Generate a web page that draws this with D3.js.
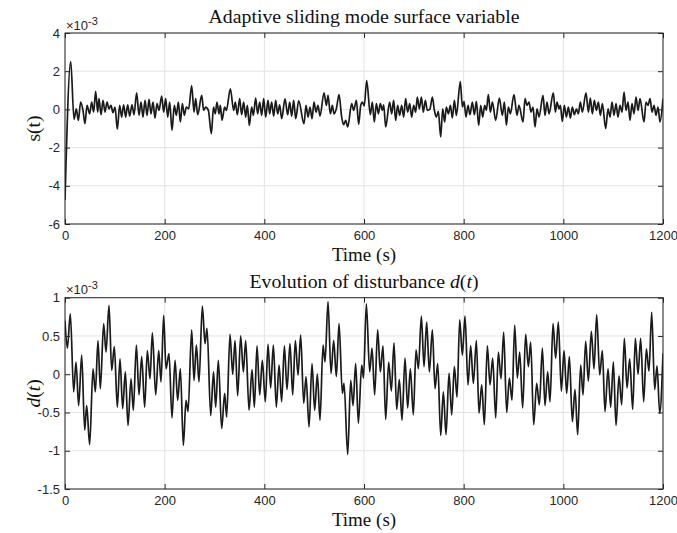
<!DOCTYPE html>
<html>
<head>
<meta charset="utf-8">
<script src="https://cdn.jsdelivr.net/npm/d3@7"></script>
<style>
  body { margin: 0; background: #fff; }
  svg text { fill: #262626; }
  .tick text { font-family: "Liberation Sans", Arial, sans-serif; font-size: 13px; fill: #262626; }
  .serif { font-family: "Liberation Serif", "Times New Roman", serif; fill: #111; }
  .expo { font-family: "Liberation Sans", Arial, sans-serif; fill: #262626; }
</style>
</head>
<body>
<svg id="fig" width="677" height="533"></svg>
<script>
// time axis (s) and tick values
var timeTicks = [0, 200, 400, 600, 800, 1000, 1200];
var sTicks = [-6, -4, -2, 0, 2, 4];
var dTicks = [-1.5, -1, -0.5, 0, 0.5, 1];

// s(t), in units of 1e-3 (local extremes)
var sTime = [0, 11.5, 18.1, 22.7, 26.8, 31.4, 36.1, 40.1, 44.2, 49.5, 53.5, 57.5, 61.5, 65.6, 68.2, 72.3, 76.3, 80.3, 84.3, 88.3,
  92.3, 96.3, 100.4, 105.0, 109.7, 113.7, 117.7, 121.8, 125.8, 129.8, 134.5, 138.5, 143.8, 148.5, 152.5, 156.5, 160.6, 164.6, 168.6, 172.6,
  176.6, 180.6, 184.6, 188.7, 194.0, 198.0, 202.0, 206.1, 210.1, 214.7, 219.4, 223.4, 227.5, 231.5, 235.5, 239.5, 243.5, 248.2, 254.2, 258.9,
  262.2, 266.3, 274.3, 278.3, 282.3, 287.7, 293.7, 298.0, 301.5, 305.0, 309.0, 311.7, 315.1, 320.4, 323.8, 331.8, 338.5, 341.8, 345.8, 350.5,
  354.5, 358.5, 362.6, 365.9, 369.9, 374.6, 378.0, 382.6, 386.6, 390.7, 394.7, 398.7, 402.7, 407.4, 410.7, 414.7, 418.8, 422.8, 426.8, 430.8,
  434.8, 441.5, 446.9, 450.9, 454.9, 458.9, 462.9, 469.0, 479.6, 483.7, 487.7, 491.7, 495.7, 499.7, 503.7, 507.7, 511.7, 519.8, 524.5, 527.8,
  532.5, 536.5, 539.8, 544.5, 549.9, 555.2, 559.2, 563.3, 567.3, 575.3, 579.3, 584.7, 589.3, 593.4, 597.0, 600.5, 605.4, 612.7, 616.7, 620.7,
  624.8, 628.8, 632.8, 636.8, 639.5, 643.5, 651.5, 655.5, 659.5, 663.6, 667.6, 671.6, 675.6, 679.6, 683.6, 687.6, 691.7, 695.7, 699.7, 703.7,
  707.0, 711.1, 715.1, 719.1, 723.1, 727.1, 732.0, 737.2, 741.2, 745.2, 749.2, 753.9, 757.9, 761.9, 765.2, 769.3, 773.3, 777.3, 781.3, 785.3,
  793.3, 797.4, 800.7, 804.7, 808.7, 812.7, 817.4, 821.4, 825.5, 830.1, 834.2, 838.2, 842.2, 845.5, 849.5, 853.6, 857.6, 864.3, 871.6, 877.6,
  881.7, 885.7, 889.7, 893.7, 901.0, 907.0, 911.0, 919.1, 923.1, 927.1, 931.1, 935.1, 939.1, 943.2, 947.2, 951.2, 959.2, 963.2, 967.2, 971.3,
  979.9, 984.0, 987.3, 991.3, 994.0, 998.0, 1002.0, 1006.0, 1010.1, 1014.1, 1018.1, 1022.1, 1026.1, 1030.1, 1034.1, 1038.2, 1045.5, 1050.2, 1054.2, 1058.2,
  1062.2, 1066.3, 1070.3, 1074.3, 1078.3, 1085.0, 1089.7, 1093.7, 1097.7, 1101.7, 1105.7, 1109.7, 1113.7, 1117.8, 1121.8, 1125.8, 1129.8, 1133.8, 1137.8, 1141.8,
  1145.9, 1149.9, 1153.9, 1161.9, 1165.9, 1169.9, 1174.0, 1178.0, 1182.0, 1186.0, 1190.0, 1194.0, 1200];
var sValue = [-4.74, 2.5, -0.52, 0.03, -0.57, 0.38, -0.05, -0.75, 0.21, -0.23, 0.38, -0.14, 0.95, -0.14, 0.56, -0.28, 0.47, -0.14, 0.38, 0.03,
  0.21, -0.17, 0.12, -1.04, 0.21, -0.40, 0.24, -0.40, 0.24, -0.35, 0.24, -0.28, 0.87, -0.31, 0.38, -0.40, 0.47, -0.31, 0.52, -0.23,
  0.38, -0.45, 0.30, -0.05, 0.70, -0.14, 0.56, -0.40, 0.38, -1.10, 0.21, -0.31, 0.38, -0.66, 0.30, -0.31, 0.12, 0.03, 1.25, -0.14,
  0.56, -0.28, 0.73, -0.05, 0.12, -0.05, -1.27, 0.12, -0.23, 0.38, -0.23, 0.21, -0.57, 0.12, -0.05, 1.08, -0.05, 0.38, -0.28, 0.56,
  -0.28, 0.38, -0.40, 0.21, -0.83, 0.12, -0.31, 0.59, -0.23, 0.38, -0.31, 0.56, -0.40, 0.47, -0.23, 0.38, -0.35, 0.47, -0.23, 0.24,
  -0.49, 0.55, -0.28, 0.38, -0.35, 0.47, -0.49, 0.45, -0.75, 0.21, -0.40, 0.12, -0.49, 0.38, -0.14, 0.21, -0.35, 0.87, 0.21, 0.73,
  -0.23, 0.21, -0.23, 0.03, 0.77, -0.40, -0.80, -0.57, -0.92, 0.30, -0.05, 0.47, -0.78, 0.21, 0.38, 0.18, 1.51, -0.28, 0.38, -0.66,
  0.30, -0.23, 0.30, -0.05, 0.24, -0.92, 0.38, -0.23, 0.47, -0.57, 0.21, -0.31, 0.21, -0.40, 0.56, -0.14, 0.30, -0.40, 0.21, -0.14,
  0.64, 0.03, 0.64, -0.14, 0.47, -0.05, 0.0, 0.64, -0.05, -0.40, -0.10, -1.44, 0.03, -0.66, 0.12, -0.23, 0.21, -0.45, 0.47, -0.31,
  1.46, 0.12, 0.42, -0.40, 0.21, -0.28, 0.38, -0.28, 0.42, -0.83, 0.21, -0.40, 0.21, -0.05, 0.77, -0.14, 0.38, -0.57, 0.59, -0.31,
  0.38, -0.83, 0.12, -0.23, 0.78, -0.31, 0.21, -0.66, 0.56, 0.21, 0.38, -0.14, 0.12, -0.92, 0.03, -0.40, 0.73, -0.31, 0.38, -0.23,
  0.87, -0.14, 0.38, 0.03, 0.21, -0.63, 0.21, -0.40, 0.12, -0.45, 0.12, -0.28, 0.03, -0.23, 0.38, -0.14, 0.87, -0.14, 0.59, -0.23,
  0.47, -0.05, 0.38, -0.31, 0.30, -1.00, 0.03, -0.40, 0.38, -0.31, 0.30, -0.40, 0.21, -0.14, 0.90, -0.05, 0.38, -0.57, 0.30, -0.23,
  0.64, -0.05, 0.56, -0.66, 0.38, 0.21, 0.56, -0.14, 0.21, -0.31, 0.12, -0.66, 0.55];

// d(t), in units of 1e-3
var dTime = [0, 4.7, 10.7, 17.4, 22.1, 27.4, 33.5, 39.5, 43.5, 49.5, 56.2, 60.9, 66.2, 70.9, 77.6, 82.3, 88.3, 93.7, 99.0, 105.0,
  110.4, 115.7, 121.1, 126.4, 132.5, 137.1, 143.2, 148.5, 153.9, 159.9, 165.2, 170.6, 175.3, 182.0, 188.0, 192.7, 198.0, 202.7, 208.7, 214.7,
  220.8, 226.1, 231.5, 237.5, 242.8, 246.9, 254.2, 258.9, 263.6, 268.9, 275.6, 281.0, 285.0, 292.4, 298.0, 302.4, 307.7, 314.4, 320.4, 324.4,
  331.1, 336.5, 341.2, 346.5, 352.5, 357.9, 362.6, 369.3, 375.3, 380.0, 385.3, 390.7, 396.0, 402.0, 407.4, 412.7, 418.1, 424.1, 429.5, 434.8,
  440.2, 445.5, 451.5, 456.9, 462.2, 467.6, 472.9, 479.0, 483.7, 489.7, 495.7, 501.0, 506.4, 511.7, 517.8, 521.8, 527.8, 533.8, 539.2, 544.5,
  549.9, 556.6, 559.9, 567.3, 573.3, 578.0, 583.3, 588.7, 595.4, 599.0, 604.7, 611.4, 616.1, 621.4, 627.4, 632.8, 638.1, 643.5, 649.5, 654.9,
  660.2, 665.6, 670.9, 676.3, 682.3, 687.6, 693.0, 699.0, 704.4, 709.1, 715.1, 720.4, 725.8, 731.1, 737.2, 742.5, 747.9, 753.9, 759.2, 764.6,
  770.6, 776.0, 781.3, 786.7, 792.0, 797.4, 802.7, 808.7, 814.1, 819.4, 825.5, 830.8, 836.2, 841.5, 847.5, 852.9, 858.2, 864.3, 869.6, 875.0,
  880.3, 886.3, 891.7, 897.0, 902.4, 907.7, 912.4, 918.4, 924.4, 929.8, 934.5, 940.5, 946.5, 951.9, 957.9, 963.2, 968.6, 973.3, 979.3, 984.6,
  990.0, 996.0, 1001.4, 1006.7, 1012.1, 1018.1, 1023.4, 1028.8, 1034.8, 1039.5, 1044.8, 1050.2, 1056.2, 1061.6, 1066.9, 1073.0, 1078.3, 1083.6, 1089.7, 1095.0,
  1100.4, 1105.7, 1111.7, 1117.1, 1122.4, 1127.8, 1133.2, 1139.2, 1144.5, 1149.9, 1155.2, 1161.2, 1166.6, 1171.9, 1177.3, 1183.3, 1188.0, 1193.4, 1200];
var dValue = [0.70, 0.34, 0.79, -0.23, 0.16, -0.41, 0.25, -0.73, -0.41, -0.92, 0.07, -0.23, 0.44, -0.19, 0.66, 0.29, 0.90, 0.05, 0.36, -0.43,
  0.20, -0.45, 0.03, -0.67, -0.06, -0.47, 0.38, -0.27, 0.23, -0.43, 0.31, -0.06, 0.54, -0.27, 0.31, -0.10, 0.77, 0.07, 0.27, -0.57,
  0.18, -0.34, 0.07, -0.93, -0.34, -0.49, 0.58, -0.08, 0.38, -0.10, 0.89, 0.40, 0.60, -0.54, 0.03, -0.43, 0.18, -0.71, -0.25, -0.56,
  0.52, 0.00, 0.44, -0.28, 0.50, 0.03, 0.44, -0.47, 0.06, -0.43, 0.37, -0.27, 0.18, -0.36, 0.39, -0.18, 0.38, -0.43, 0.12, -0.36,
  0.37, -0.20, 0.40, -0.27, 0.44, -0.01, 0.51, -0.38, -0.03, -0.69, 0.14, -0.47, 0.00, -0.60, 0.38, 0.16, 0.95, 0.01, 0.44, -0.03,
  0.66, -0.25, -0.12, -1.05, -0.08, -0.41, 0.14, -0.64, 0.12, -0.05, 0.92, 0.03, 0.34, -0.27, 0.58, 0.03, 0.37, -0.59, 0.16, -0.22,
  0.41, -0.46, -0.07, -0.60, 0.21, -0.44, 0.07, -0.53, 0.32, 0.07, 0.76, 0.10, 0.68, 0.03, 0.58, -0.19, 0.14, -0.80, -0.23, -0.79,
  0.01, -0.53, 0.10, -0.30, 0.71, 0.25, 0.76, -0.14, 0.37, -0.12, 0.44, -0.51, -0.14, -0.66, 0.37, -0.14, 0.21, -0.57, 0.29, -0.06,
  0.55, -0.50, -0.05, -0.34, 0.64, -0.05, 0.29, -0.44, 0.52, 0.10, 0.42, -0.66, -0.12, -0.40, 0.34, -0.41, 0.03, -0.36, 0.66, 0.21,
  0.68, -0.22, 0.31, -0.25, 0.23, -0.62, -0.20, -0.79, 0.12, -0.27, 0.43, -0.09, 0.56, 0.07, 0.78, -0.01, 0.31, -0.49, 0.07, -0.43,
  0.16, -0.67, -0.02, -0.40, 0.47, -0.18, 0.20, -0.46, 0.47, 0.00, 0.47, -0.36, 0.33, 0.04, 0.81, -0.20, 0.11, -0.51, 0.27];

var svg = d3.select("#fig");
var left = 65, right = 663;

var x = d3.scaleLinear().domain([0, 1200]).range([left, right]);

function drawPanel(cfg, idx) {
  var y = d3.scaleLinear().domain(cfg.domain).range([cfg.bottom, cfg.top]);
  var g = svg.append("g");
  var clipId = "clip" + idx;

  g.append("clipPath").attr("id", clipId)
    .append("rect")
    .attr("x", left).attr("y", cfg.top)
    .attr("width", right - left).attr("height", cfg.bottom - cfg.top);

  // grid
  g.append("g").selectAll("line").data(timeTicks).join("line")
    .attr("x1", d => x(d)).attr("x2", d => x(d))
    .attr("y1", cfg.top).attr("y2", cfg.bottom)
    .attr("stroke", "#e3e3e3").attr("stroke-width", 1);
  g.append("g").selectAll("line").data(cfg.ticks).join("line")
    .attr("x1", left).attr("x2", right)
    .attr("y1", d => y(d)).attr("y2", d => y(d))
    .attr("stroke", "#e3e3e3").attr("stroke-width", 1);

  // the signal
  var pts = cfg.t.map((t, i) => [t, cfg.v[i]]);
  g.append("path")
    .datum(pts)
    .attr("clip-path", "url(#" + clipId + ")")
    .attr("fill", "none")
    .attr("stroke", "#1a1a1a")
    .attr("stroke-width", 1.7)
    .attr("stroke-linejoin", "round")
    .attr("d", d3.line().x(d => x(d[0])).y(d => y(d[1])).curve(d3.curveMonotoneX));

  // axes, inward ticks on all four sides (box on)
  var fmt = d3.format("");
  g.append("g").attr("transform", "translate(0," + cfg.bottom + ")")
    .call(d3.axisBottom(x).tickValues(timeTicks).tickFormat(fmt).tickSizeInner(-5).tickSizeOuter(0).tickPadding(7));
  g.append("g").attr("transform", "translate(0," + cfg.top + ")")
    .call(d3.axisTop(x).tickValues(timeTicks).tickFormat("").tickSizeInner(-5).tickSizeOuter(0));
  g.append("g").attr("transform", "translate(" + left + ",0)")
    .call(d3.axisLeft(y).tickValues(cfg.ticks).tickFormat(d => String(d)).tickSizeInner(-5).tickSizeOuter(0).tickPadding(5));
  g.append("g").attr("transform", "translate(" + right + ",0)")
    .call(d3.axisRight(y).tickValues(cfg.ticks).tickFormat("").tickSizeInner(-5).tickSizeOuter(0));
  g.selectAll(".domain").remove();
  g.selectAll(".tick line").attr("stroke", "#262626");

  g.append("rect")
    .attr("x", left).attr("y", cfg.top)
    .attr("width", right - left).attr("height", cfg.bottom - cfg.top)
    .attr("fill", "none").attr("stroke", "#262626").attr("stroke-width", 1);

  // exponent label
  var ex = g.append("text").attr("class", "expo").attr("x", left + 1).attr("y", cfg.top - 3.5);
  ex.append("tspan").attr("font-size", 13).text("\u00d710");
  ex.append("tspan").attr("font-size", 11).attr("dy", -5).text("-3");

  // title
  var tt = g.append("text").attr("class", "serif").attr("font-size", 19.8)
    .attr("x", (left + right) / 2).attr("y", cfg.titleY).attr("text-anchor", "middle");
  cfg.title.forEach(p => tt.append("tspan").attr("font-style", p.it ? "italic" : "normal").text(p.s));

  // x label
  g.append("text").attr("class", "serif").attr("font-size", 19)
    .attr("x", (left + right) / 2).attr("y", cfg.bottom + 36.5).attr("text-anchor", "middle")
    .text("Time (s)");

  // y label
  var yl = g.append("text").attr("class", "serif").attr("font-size", 19.5)
    .attr("text-anchor", "middle")
    .attr("transform", "translate(40," + (cfg.top + cfg.bottom) / 2 + ") rotate(-90)");
  cfg.ylabel.forEach(p => yl.append("tspan").attr("font-style", p.it ? "italic" : "normal").text(p.s));
}

drawPanel({
  top: 33, bottom: 224, domain: [-6, 4], ticks: sTicks, t: sTime, v: sValue, titleY: 23,
  title: [{s: "Adaptive sliding mode surface variable"}],
  ylabel: [{s: "s(t)"}]
}, 0);

drawPanel({
  top: 297.7, bottom: 489, domain: [-1.5, 1], ticks: dTicks, t: dTime, v: dValue, titleY: 288,
  title: [{s: "Evolution of disturbance "}, {s: "d", it: true}, {s: "("}, {s: "t", it: true}, {s: ")"}],
  ylabel: [{s: "d", it: true}, {s: "("}, {s: "t", it: true}, {s: ")"}]
}, 1);
</script>
</body>
</html>
